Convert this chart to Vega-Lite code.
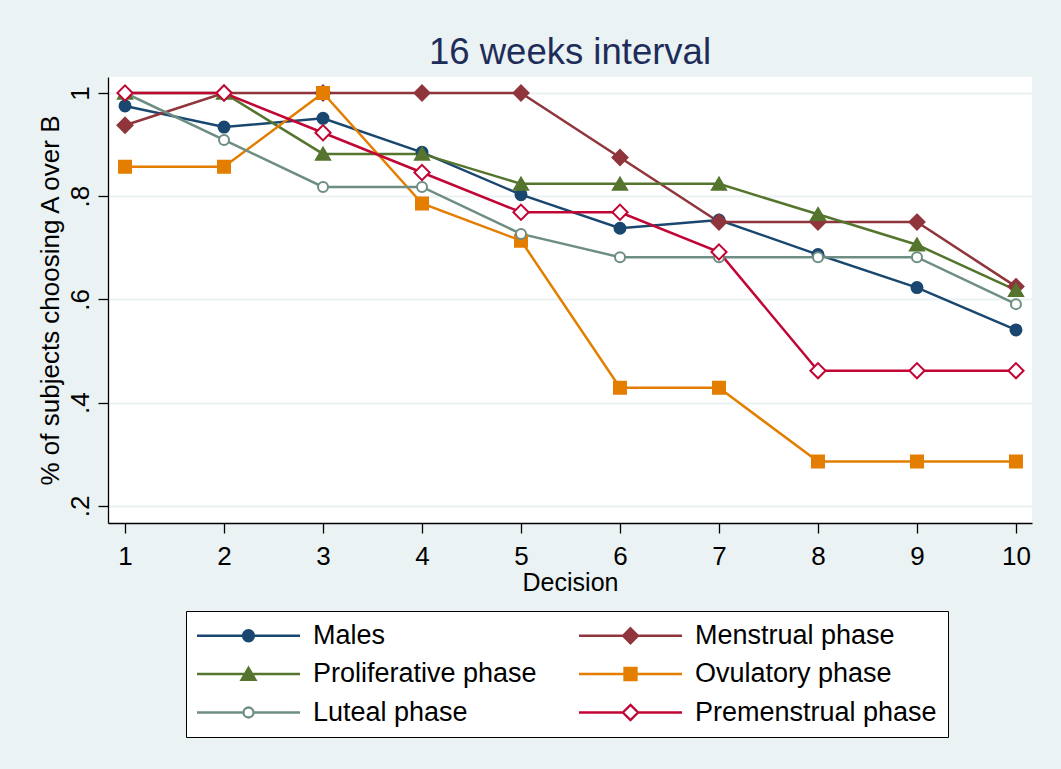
{
  "$schema": "https://vega.github.io/schema/vega-lite/v6.json",
  "width": 924,
  "height": 446,
  "autosize": {"type": "none"},
  "padding": {"left": 108, "top": 77, "right": 29, "bottom": 246},
  "background": "#eaf2f3",
  "config": {"font": "Liberation Sans", "view": {"fill": "#ffffff", "stroke": null}},
  "title": {
    "text": "16 weeks interval",
    "fontSize": 36.5,
    "fontWeight": "normal",
    "color": "#1e2c5a",
    "anchor": "middle",
    "frame": "group",
    "baseline": "bottom",
    "offset": -31
  },
  "data": {
    "values": [
      {"decision": 1, "group": "Males", "share": 0.975},
      {"decision": 2, "group": "Males", "share": 0.934},
      {"decision": 3, "group": "Males", "share": 0.951},
      {"decision": 4, "group": "Males", "share": 0.885},
      {"decision": 5, "group": "Males", "share": 0.803},
      {"decision": 6, "group": "Males", "share": 0.738},
      {"decision": 7, "group": "Males", "share": 0.754},
      {"decision": 8, "group": "Males", "share": 0.687},
      {"decision": 9, "group": "Males", "share": 0.623},
      {"decision": 10, "group": "Males", "share": 0.541},
      {"decision": 1, "group": "Menstrual phase", "share": 0.9375},
      {"decision": 2, "group": "Menstrual phase", "share": 1},
      {"decision": 3, "group": "Menstrual phase", "share": 1},
      {"decision": 4, "group": "Menstrual phase", "share": 1},
      {"decision": 5, "group": "Menstrual phase", "share": 1},
      {"decision": 6, "group": "Menstrual phase", "share": 0.875},
      {"decision": 7, "group": "Menstrual phase", "share": 0.75},
      {"decision": 8, "group": "Menstrual phase", "share": 0.75},
      {"decision": 9, "group": "Menstrual phase", "share": 0.75},
      {"decision": 10, "group": "Menstrual phase", "share": 0.625},
      {"decision": 1, "group": "Proliferative phase", "share": 1},
      {"decision": 2, "group": "Proliferative phase", "share": 1},
      {"decision": 3, "group": "Proliferative phase", "share": 0.882},
      {"decision": 4, "group": "Proliferative phase", "share": 0.882},
      {"decision": 5, "group": "Proliferative phase", "share": 0.824},
      {"decision": 6, "group": "Proliferative phase", "share": 0.824},
      {"decision": 7, "group": "Proliferative phase", "share": 0.824},
      {"decision": 8, "group": "Proliferative phase", "share": 0.765},
      {"decision": 9, "group": "Proliferative phase", "share": 0.706},
      {"decision": 10, "group": "Proliferative phase", "share": 0.618},
      {"decision": 1, "group": "Ovulatory phase", "share": 0.857},
      {"decision": 2, "group": "Ovulatory phase", "share": 0.857},
      {"decision": 3, "group": "Ovulatory phase", "share": 1},
      {"decision": 4, "group": "Ovulatory phase", "share": 0.786},
      {"decision": 5, "group": "Ovulatory phase", "share": 0.714},
      {"decision": 6, "group": "Ovulatory phase", "share": 0.429},
      {"decision": 7, "group": "Ovulatory phase", "share": 0.429},
      {"decision": 8, "group": "Ovulatory phase", "share": 0.286},
      {"decision": 9, "group": "Ovulatory phase", "share": 0.286},
      {"decision": 10, "group": "Ovulatory phase", "share": 0.286},
      {"decision": 1, "group": "Luteal phase", "share": 1},
      {"decision": 2, "group": "Luteal phase", "share": 0.909},
      {"decision": 3, "group": "Luteal phase", "share": 0.818},
      {"decision": 4, "group": "Luteal phase", "share": 0.818},
      {"decision": 5, "group": "Luteal phase", "share": 0.727},
      {"decision": 6, "group": "Luteal phase", "share": 0.682},
      {"decision": 7, "group": "Luteal phase", "share": 0.682},
      {"decision": 8, "group": "Luteal phase", "share": 0.682},
      {"decision": 9, "group": "Luteal phase", "share": 0.682},
      {"decision": 10, "group": "Luteal phase", "share": 0.591},
      {"decision": 1, "group": "Premenstrual phase", "share": 1},
      {"decision": 2, "group": "Premenstrual phase", "share": 1},
      {"decision": 3, "group": "Premenstrual phase", "share": 0.923},
      {"decision": 4, "group": "Premenstrual phase", "share": 0.846},
      {"decision": 5, "group": "Premenstrual phase", "share": 0.769},
      {"decision": 6, "group": "Premenstrual phase", "share": 0.769},
      {"decision": 7, "group": "Premenstrual phase", "share": 0.692},
      {"decision": 8, "group": "Premenstrual phase", "share": 0.462},
      {"decision": 9, "group": "Premenstrual phase", "share": 0.462},
      {"decision": 10, "group": "Premenstrual phase", "share": 0.462}
    ]
  },
  "encoding": {
    "x": {
      "field": "decision",
      "type": "quantitative",
      "scale": {"domain": [0.828, 10.162], "nice": false, "zero": false},
      "axis": {
        "values": [1, 2, 3, 4, 5, 6, 7, 8, 9, 10],
        "format": "d",
        "title": "Decision",
        "grid": false,
        "tickSize": 10,
        "tickColor": "#000000",
        "tickWidth": 1.3,
        "domainColor": "#000000",
        "domainWidth": 1.3,
        "labelFontSize": 26,
        "labelColor": "#000000",
        "labelPadding": 10,
        "labelFlush": false,
        "labelOverlap": false,
        "titleFontSize": 25,
        "titleFontWeight": "normal",
        "titleColor": "#000000",
        "titlePadding": 1
      }
    },
    "y": {
      "field": "share",
      "type": "quantitative",
      "scale": {"domain": [0.167, 1.031], "nice": false, "zero": false},
      "axis": {
        "values": [0.2, 0.4, 0.6, 0.8, 1],
        "labelExpr": "datum.value >= 1 ? '1' : '.' + round(datum.value * 10)",
        "title": "% of subjects choosing A over B",
        "grid": true,
        "gridColor": "#eaf2f3",
        "gridWidth": 2,
        "tickSize": 10,
        "tickColor": "#000000",
        "tickWidth": 1.3,
        "domainColor": "#000000",
        "domainWidth": 1.3,
        "labelAngle": 270,
        "labelAlign": "center",
        "labelBaseline": "bottom",
        "labelFontSize": 26,
        "labelColor": "#000000",
        "labelPadding": 4.5,
        "labelFlush": false,
        "labelOverlap": false,
        "titleFontSize": 26,
        "titleFontWeight": "normal",
        "titleColor": "#000000",
        "titlePadding": 4
      }
    },
    "stroke": {
      "field": "group",
      "type": "nominal",
      "scale": {
        "domain": ["Males", "Menstrual phase", "Proliferative phase", "Ovulatory phase", "Luteal phase", "Premenstrual phase"],
        "range": ["#1a476f", "#90353b", "#55752f", "#e37e00", "#6e8e84", "#c10534"]
      },
      "legend": {
        "title": null,
        "orient": "none",
        "direction": "horizontal",
        "legendX": 78,
        "legendY": 534,
        "columns": 2,
        "columnPadding": 37,
        "rowPadding": 10.5,
        "padding": 11,
        "strokeColor": "#000000",
        "fillColor": "#ffffff",
        "cornerRadius": 0,
        "symbolOffset": 38,
        "labelOffset": 51,
        "symbolSize": 400,
        "symbolStrokeWidth": 2,
        "labelFontSize": 27,
        "labelColor": "#000000",
        "labelLimit": 400,
        "encoding": {
          "symbols": {
            "shape": {"value": {"expr": "datum.value === 'Males' ? 'M-5.15,0H5.15M0.55,0A0.55,0.55,0,1,1,-0.55,0A0.55,0.55,0,1,1,0.55,0Z' : datum.value === 'Menstrual phase' ? 'M-5.15,0H5.15M0,-0.75L0.75,0L0,0.75L-0.75,0Z' : datum.value === 'Proliferative phase' ? 'M-5.15,0H5.15M0,-0.62L0.7,0.58L-0.7,0.58Z' : datum.value === 'Ovulatory phase' ? 'M-5.15,0H5.15M-0.6,-0.6H0.6V0.6H-0.6Z' : datum.value === 'Luteal phase' ? 'M-5.15,0H-0.5M0.5,0H5.15M0.5,0A0.5,0.5,0,1,1,-0.5,0A0.5,0.5,0,1,1,0.5,0Z' : 'M-5.15,0H-0.76M0.76,0H5.15M0,-0.76L0.76,0L0,0.76L-0.76,0Z'"}},
            "fill": {"value": {"expr": "datum.value === 'Luteal phase' || datum.value === 'Premenstrual phase' ? '#ffffff' : scale('stroke', datum.value)"}},
            "size": {"value": 400},
            "strokeWidth": {"value": 2.3},
            "opacity": {"value": 1}
          }
        }
      }
    }
  },
  "layer": [
    {"mark": {"type": "line", "strokeWidth": 2.5}},
    {
      "transform": [{"filter": "datum.group === 'Males'"}],
      "mark": {"type": "point", "opacity": 1, "size": 400, "strokeWidth": 2, "fill": "#1a476f",
               "shape": "M0.55,0A0.55,0.55,0,1,1,-0.55,0A0.55,0.55,0,1,1,0.55,0Z"}
    },
    {
      "transform": [{"filter": "datum.group === 'Menstrual phase'"}],
      "mark": {"type": "point", "opacity": 1, "size": 400, "strokeWidth": 2, "fill": "#90353b",
               "shape": "M0,-0.75L0.75,0L0,0.75L-0.75,0Z"}
    },
    {
      "transform": [{"filter": "datum.group === 'Proliferative phase'"}],
      "mark": {"type": "point", "opacity": 1, "size": 400, "strokeWidth": 2, "fill": "#55752f",
               "shape": "M0,-0.62L0.7,0.58L-0.7,0.58Z"}
    },
    {
      "transform": [{"filter": "datum.group === 'Ovulatory phase'"}],
      "mark": {"type": "point", "opacity": 1, "size": 400, "strokeWidth": 2, "fill": "#e37e00",
               "shape": "M-0.6,-0.6H0.6V0.6H-0.6Z"}
    },
    {
      "transform": [{"filter": "datum.group === 'Luteal phase'"}],
      "mark": {"type": "point", "opacity": 1, "size": 400, "strokeWidth": 2, "fill": "#ffffff",
               "shape": "M0.5,0A0.5,0.5,0,1,1,-0.5,0A0.5,0.5,0,1,1,0.5,0Z"}
    },
    {
      "transform": [{"filter": "datum.group === 'Premenstrual phase'"}],
      "mark": {"type": "point", "opacity": 1, "size": 400, "strokeWidth": 2, "fill": "#ffffff",
               "shape": "M0,-0.76L0.76,0L0,0.76L-0.76,0Z"}
    }
  ]
}
